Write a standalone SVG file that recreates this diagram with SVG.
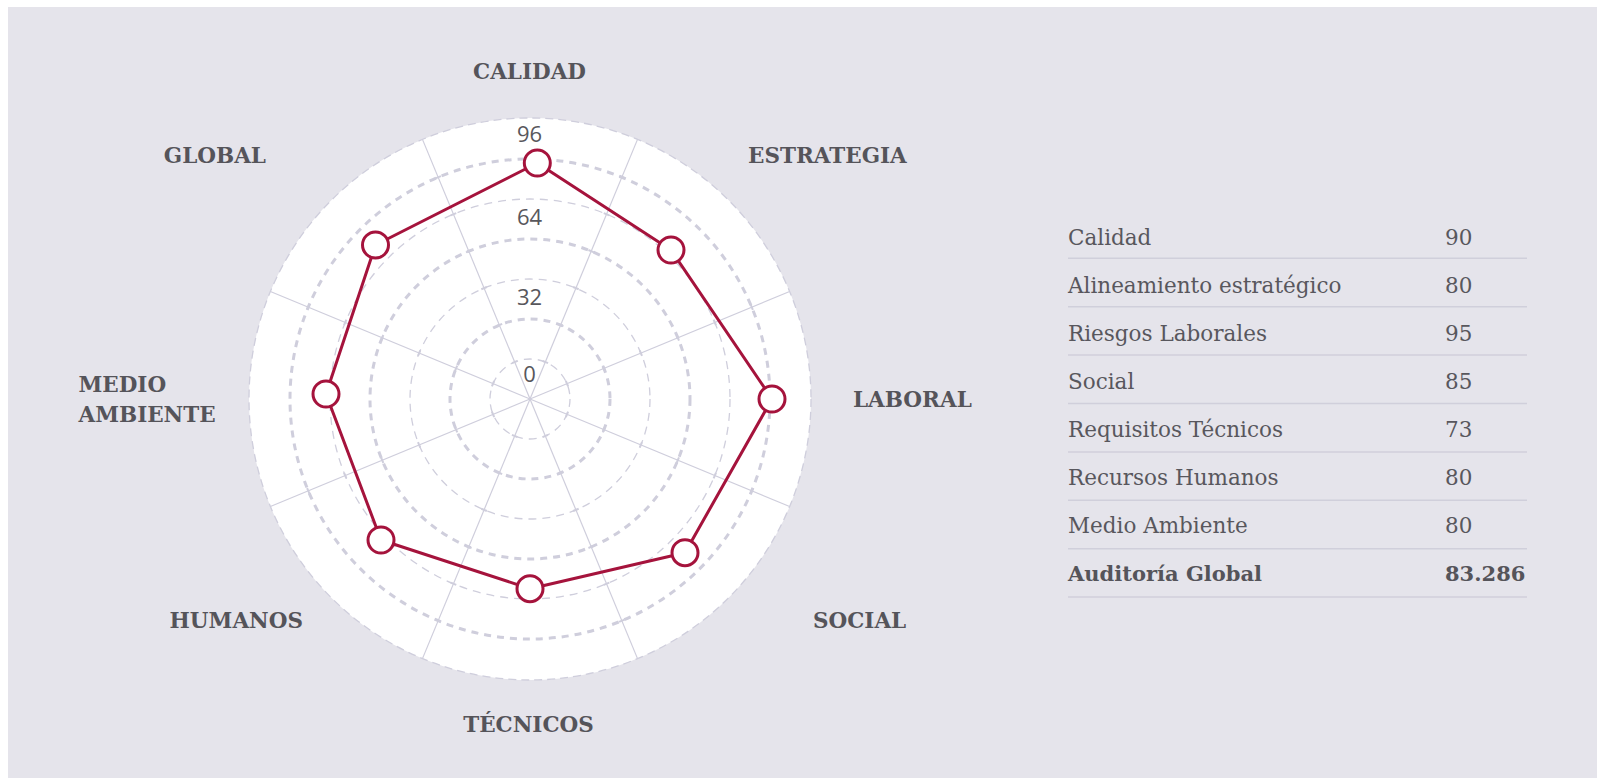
<svg xmlns="http://www.w3.org/2000/svg" xmlns:xlink="http://www.w3.org/1999/xlink" width="1600" height="778" viewBox="0 0 1600 778">
  <style>
    .ring-thin { fill: none; stroke: #cfcedc; stroke-width: 1.3; stroke-dasharray: 8 6; }
    .ring-thick { fill: none; stroke: #cfcedc; stroke-width: 3; stroke-dasharray: 7 6; }
    .spoke { stroke: #cfcedc; stroke-width: 1.2; }
    .tick { stroke: #cfcedc; stroke-width: 2; }
    .scale { font-family: "Open Sans", "Noto Sans", sans-serif; font-size: 22px; fill: #58575c; text-anchor: middle; }
    .cat { font-family: "DejaVu Serif", "Liberation Serif", serif; font-weight: bold; font-size: 21.5px; fill: #55545a; }
    .row { font-family: "DejaVu Serif", "Liberation Serif", serif; font-size: 21.5px; fill: #58575d; }
    .row-b { font-family: "DejaVu Serif", "Liberation Serif", serif; font-size: 21px; font-weight: bold; fill: #55545a; }
    .sep { stroke: #d0cfdb; stroke-width: 1.5; }
    .series { fill: none; stroke: #a5133c; stroke-width: 3; stroke-linejoin: round; }
    .marker { fill: #ffffff; stroke: #a5133c; stroke-width: 3; }
  </style>
  <defs>
    <g id="half-spoke">
      <line class="spoke" x1="530" y1="399" x2="530" y2="118"/>
      <line class="tick" x1="527" y1="359" x2="533" y2="359"/>
      <line class="tick" x1="527" y1="319" x2="533" y2="319"/>
      <line class="tick" x1="527" y1="279" x2="533" y2="279"/>
      <line class="tick" x1="527" y1="239" x2="533" y2="239"/>
      <line class="tick" x1="527" y1="199" x2="533" y2="199"/>
      <line class="tick" x1="527" y1="159" x2="533" y2="159"/>
    </g>
  </defs>

  <rect x="0" y="0" width="1600" height="778" fill="#ffffff"/>
  <rect id="panel" x="8" y="7" width="1589" height="771" fill="#e5e4eb"/>

  <g id="radar-grid">
    <circle cx="530" cy="399" r="281" fill="#ffffff" stroke="#cfcedc" stroke-width="1.3" stroke-dasharray="8 5"/>
    <circle class="ring-thin" cx="530" cy="399" r="40"/>
    <circle class="ring-thick" cx="530" cy="399" r="80"/>
    <circle class="ring-thin" cx="530" cy="399" r="120"/>
    <circle class="ring-thick" cx="530" cy="399" r="160"/>
    <circle class="ring-thin" cx="530" cy="399" r="200"/>
    <circle class="ring-thick" cx="530" cy="399" r="240"/>
    <use xlink:href="#half-spoke" transform="rotate(22.5 530 399)"/>
    <use xlink:href="#half-spoke" transform="rotate(67.5 530 399)"/>
    <use xlink:href="#half-spoke" transform="rotate(112.5 530 399)"/>
    <use xlink:href="#half-spoke" transform="rotate(157.5 530 399)"/>
    <use xlink:href="#half-spoke" transform="rotate(202.5 530 399)"/>
    <use xlink:href="#half-spoke" transform="rotate(247.5 530 399)"/>
    <use xlink:href="#half-spoke" transform="rotate(292.5 530 399)"/>
    <use xlink:href="#half-spoke" transform="rotate(337.5 530 399)"/>
  </g>

  <g id="scale-labels">
    <text class="scale" x="529.5" y="142">96</text>
    <text class="scale" x="529.5" y="225">64</text>
    <text class="scale" x="529.5" y="305">32</text>
    <text class="scale" x="529.5" y="382">0</text>
  </g>

  <g id="category-labels">
    <text id="lbl-calidad" class="cat" x="529.5" y="79" text-anchor="middle">CALIDAD</text>
    <text id="lbl-estrategia" class="cat" x="748" y="163" text-anchor="start">ESTRATEGIA</text>
    <text id="lbl-laboral" class="cat" x="853" y="406.5" text-anchor="start">LABORAL</text>
    <text id="lbl-social" class="cat" x="813" y="628" text-anchor="start">SOCIAL</text>
    <text id="lbl-tecnicos" class="cat" x="528.5" y="732" text-anchor="middle">TÉCNICOS</text>
    <text id="lbl-humanos" class="cat" x="303" y="628" text-anchor="end">HUMANOS</text>
    <text id="lbl-medio" class="cat" x="78.5" y="391.5" text-anchor="start">MEDIO</text>
    <text id="lbl-ambiente" class="cat" x="78.5" y="421.5" text-anchor="start">AMBIENTE</text>
    <text id="lbl-global" class="cat" x="266" y="163" text-anchor="end">GLOBAL</text>
  </g>

  <g id="series">
    <polygon class="series" points="537.3,163 671,250 772,399 685,552.7 530,588.7 381,540 326,394 375.5,245"/>
    <circle id="pt-calidad" class="marker" cx="537.3" cy="163" r="13"/>
    <circle id="pt-estrategia" class="marker" cx="671" cy="250" r="13"/>
    <circle id="pt-laboral" class="marker" cx="772" cy="399" r="13"/>
    <circle id="pt-social" class="marker" cx="685" cy="552.7" r="13"/>
    <circle id="pt-tecnicos" class="marker" cx="530" cy="588.7" r="13"/>
    <circle id="pt-humanos" class="marker" cx="381" cy="540" r="13"/>
    <circle id="pt-medio" class="marker" cx="326" cy="394" r="13"/>
    <circle id="pt-global" class="marker" cx="375.5" cy="245" r="13"/>
  </g>

  <g id="table">
    <g id="row-calidad">
      <text class="row" x="1068" y="245">Calidad</text>
      <text class="row" x="1445" y="245">90</text>
      <line class="sep" x1="1068" y1="258.3" x2="1527" y2="258.3"/>
    </g>
    <g id="row-alineamiento">
      <text class="row" x="1068" y="293">Alineamiento estratégico</text>
      <text class="row" x="1445" y="293">80</text>
      <line class="sep" x1="1068" y1="306.7" x2="1527" y2="306.7"/>
    </g>
    <g id="row-riesgos">
      <text class="row" x="1068" y="341">Riesgos Laborales</text>
      <text class="row" x="1445" y="341">95</text>
      <line class="sep" x1="1068" y1="355.1" x2="1527" y2="355.1"/>
    </g>
    <g id="row-social">
      <text class="row" x="1068" y="389">Social</text>
      <text class="row" x="1445" y="389">85</text>
      <line class="sep" x1="1068" y1="403.5" x2="1527" y2="403.5"/>
    </g>
    <g id="row-requisitos">
      <text class="row" x="1068" y="437">Requisitos Técnicos</text>
      <text class="row" x="1445" y="437">73</text>
      <line class="sep" x1="1068" y1="451.9" x2="1527" y2="451.9"/>
    </g>
    <g id="row-recursos">
      <text class="row" x="1068" y="485">Recursos Humanos</text>
      <text class="row" x="1445" y="485">80</text>
      <line class="sep" x1="1068" y1="500.3" x2="1527" y2="500.3"/>
    </g>
    <g id="row-medio">
      <text class="row" x="1068" y="533">Medio Ambiente</text>
      <text class="row" x="1445" y="533">80</text>
      <line class="sep" x1="1068" y1="548.7" x2="1527" y2="548.7"/>
    </g>
    <g id="row-global">
      <text class="row-b" x="1068" y="581">Auditoría Global</text>
      <text class="row-b" x="1445" y="581">83.286</text>
      <line class="sep" x1="1068" y1="597.1" x2="1527" y2="597.1"/>
    </g>
  </g>
</svg>
